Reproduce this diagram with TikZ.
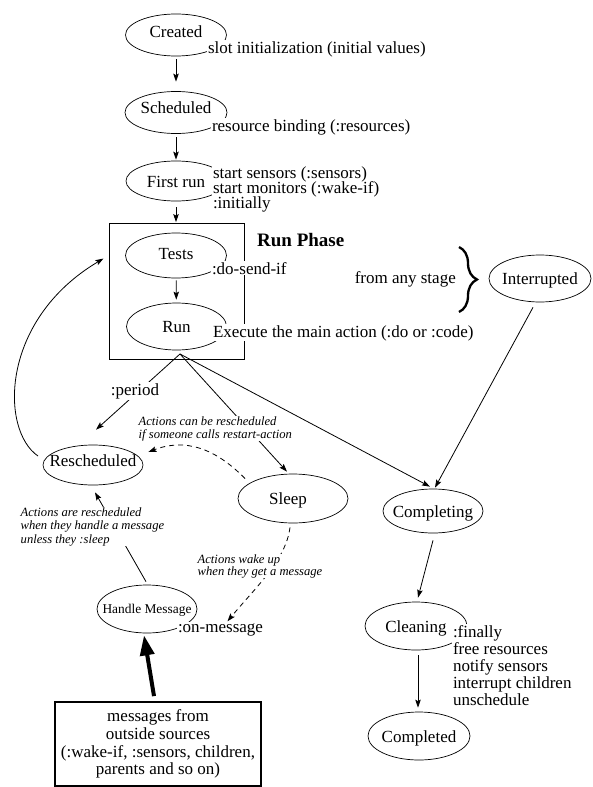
\documentclass[tikz,border=0pt]{standalone}
\usepackage{fontspec}
\setmainfont{Liberation Serif}
\usetikzlibrary{arrows.meta,shapes.geometric,decorations.pathreplacing}
\newcommand\mlines[1]{\vtop{\lineskiplimit=-30pt\relax\halign{##\hfil\cr#1\crcr}}}
\begin{document}
\begin{tikzpicture}[x=1pt,y=-1pt,
  every node/.style={font=\fontsize{17pt}{15.2pt}\selectfont},
  st/.style={draw, ellipse, line width=0.7pt, inner sep=0pt, text height=12pt, text depth=0pt},
  arr/.style={line width=0.8pt, -{Stealth[length=8pt,width=5.5pt,inset=1.5pt]}},
  dsh/.style={dash pattern=on 5pt off 4pt},
  ann/.style={anchor=base west, fill=white, inner sep=0.8pt},
  note/.style={anchor=base west, fill=white, inner sep=0.5pt, font=\itshape\fontsize{12.6pt}{12.8pt}\selectfont},
  bigarr/.style={line width=4pt, -{Triangle[length=20pt,width=14pt]}},
  phasebox/.style={draw, line width=0.8pt, minimum width=135pt, minimum height=136pt, inner sep=0pt},
  srcbox/.style={draw, line width=1.8pt, minimum width=206pt, minimum height=84pt, inner sep=0pt, align=center, font=\fontsize{17pt}{17.7pt}\selectfont}]
\fill[white] (0,0) rectangle (592,787);
\useasboundingbox (0,0) rectangle (592,787);

% states
\node[st, minimum width=101pt, minimum height=42pt, text depth=8pt] (created) at (176,35) {\makebox[0pt]{Created}};
\node[st, minimum width=102pt, minimum height=42pt, text depth=10pt] (scheduled) at (176,112.5) {\makebox[0pt]{Scheduled}};
\node[st, minimum width=100pt, minimum height=40pt] (firstrun) at (176,181) {\makebox[0pt]{First run}};
\node[phasebox] (runbox) at (176.5,291) {};
\node[st, minimum width=101pt, minimum height=45pt, text depth=4pt] (tests) at (176,255.5) {\makebox[0pt]{Tests}};
\node[st, minimum width=100pt, minimum height=47pt] (run) at (176.5,326.5) {\makebox[0pt]{Run}};
\node[st, minimum width=102pt, minimum height=47pt] (interrupted) at (540,278.5) {\makebox[0pt]{Interrupted}};
\node[st, minimum width=100pt, minimum height=40pt, text depth=10pt] (rescheduled) at (93,465) {\makebox[0pt]{Rescheduled}};
\node[st, minimum width=110pt, minimum height=49pt] (sleep) at (293,498.5) {\makebox[0pt]{\hspace*{-10pt}Sleep}};
\node[st, minimum width=100pt, minimum height=44pt] (completing) at (433,511) {\makebox[0pt]{Completing}};
\node[st, minimum width=100pt, minimum height=48pt, text height=9.5pt, font=\fontsize{13.4pt}{15pt}\selectfont] (handle) at (147,609) {\makebox[0pt]{Handle Message}};
\node[st, minimum width=102pt, minimum height=48pt] (cleaning) at (416,626) {\makebox[0pt]{Cleaning}};
\node[st, minimum width=102pt, minimum height=48pt] (completed) at (419,736) {\makebox[0pt]{Completed}};
\node[srcbox] (msgbox) at (158,744) {messages from\\outside sources\\(:wake-if, :sensors, children,\\parents and so on)};
\node[ann] (onmsg) at (177,632) {:on-message};
\coordinate (fork) at (180,354);

% connectors
\draw[arr, shorten <=3pt, shorten >=9.5pt] (created) -- (scheduled);
\draw[arr, shorten <=3.5pt, shorten >=1pt] (scheduled) -- (firstrun);
\draw[arr, shorten <=6pt, shorten >=0.5pt] (firstrun) -- (firstrun |- runbox.north);
\draw[arr, shorten <=2pt, shorten >=3pt] (tests) -- (run);
\draw[arr] (fork) -- ([xshift=3pt,yshift=15pt]rescheduled.north);
\draw[arr] (fork) -- ([xshift=-6pt,yshift=2pt]sleep.north);
\draw[arr] (fork) -- ([xshift=-3pt,yshift=2pt]completing.north);
\draw[arr] ([xshift=-7pt,yshift=-5pt]interrupted.south) -- ([xshift=2pt,yshift=1pt]completing.north);
\draw[arr] ([yshift=-7pt]completing.south) -- ([xshift=2pt,yshift=4pt]cleaning.north);
\draw[arr] ([xshift=2pt,yshift=-5pt]cleaning.south) -- ([xshift=-1pt,yshift=4pt]completed.north);
\draw[arr] ([xshift=-1pt,yshift=3pt]handle.north) -- ([xshift=2pt,yshift=-7pt]rescheduled.south);
\draw[arr, dsh] ([xshift=-48pt,yshift=20pt]sleep.center) .. controls (215,448) and (185,438) .. ([xshift=5pt,yshift=13pt]rescheduled.east);
\draw[arr, dsh] ([xshift=-3pt,yshift=-4pt]sleep.south) .. controls (286,560) and (255,588) .. ([xshift=7pt,yshift=1pt]onmsg.north);
\draw[bigarr] ([xshift=-4pt,yshift=5pt]msgbox.north) -- ([xshift=-3pt,yshift=-2pt]handle.south);
\draw[arr, shorten >=6pt] ([xshift=-55pt,yshift=9pt]rescheduled.center) .. controls (0,430) and (0,320) .. (runbox.west |- tests);
\draw[decorate, decoration={brace, amplitude=18pt}, line width=2.3pt] (459,247) -- (459,312);

% annotations
\node[ann] (slot) at (207,53) {slot initialization (initial values)};
\node[ann] (bind) at (211,131) {resource binding (:resources)};
\node[ann] (frann) at (212,178.5) {\mlines{start sensors (:sensors)\cr start monitors (:wake-if)\cr :initially}};
\node[ann] (dosend) at (211,274) {:do-send-if};
\node[ann] (exec) at (212,337) {Execute the main action (:do or :code)};
\node[anchor=base west, inner sep=0pt, font=\bfseries\fontsize{19pt}{21pt}\selectfont] (phase) at (257,246) {Run Phase};
\node[anchor=base east, inner sep=0pt] (anystage) at (456,283) {from any stage};
\node[fill=white, inner sep=1pt] (period) at (135,391) {:period};
\node[note] (n1) at (138,425.5) {\mlines{Actions can be rescheduled\cr if someone calls restart-action}};
\node[note, font=\itshape\fontsize{12.6pt}{13.5pt}\selectfont] (n2) at (20,516) {\mlines{Actions are rescheduled\cr when they handle a message\cr unless they :sleep}};
\node[note, font=\itshape\fontsize{12.6pt}{12pt}\selectfont] (n3) at (197,563) {\mlines{Actions wake up\cr when they get a message}};
\node[ann, font=\fontsize{17pt}{17.2pt}\selectfont] (finally) at (452,637) {\mlines{:finally\cr free resources\cr notify sensors\cr interrupt children\cr unschedule}};
\end{tikzpicture}
\end{document}
